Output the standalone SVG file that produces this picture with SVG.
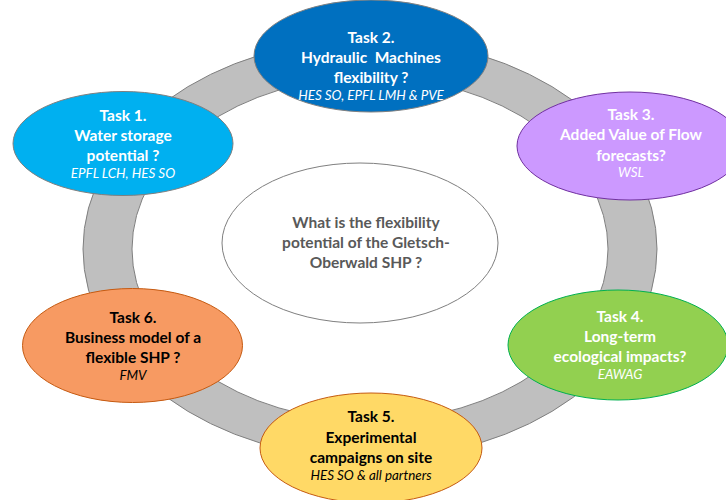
<svg xmlns="http://www.w3.org/2000/svg" width="726" height="500" viewBox="0 0 726 500">
<style>
text{font-family:Lato,"Liberation Sans",sans-serif;text-anchor:middle}
.b{font-weight:bold;font-size:15.5px}
.i{font-style:italic;font-size:13.4px}
.w{fill:#ffffff}
.k{fill:#000000}
.g{fill:#595959}
.pre{white-space:pre}
</style>
<rect width="726" height="500" fill="#ffffff"/>
<g id="connectors">
<path d="M83,249 A287,210 0 1,0 657,249 A287,210 0 1,0 83,249 Z M132,249 A238,172 0 1,1 608,249 A238,172 0 1,1 132,249 Z" fill="#bfbfbf" fill-rule="evenodd" stroke="#7f7f7f" stroke-width="1"/>
</g>
<g id="center">
<ellipse cx="360" cy="243" rx="138" ry="80" fill="#ffffff" stroke="#7f7f7f" stroke-width="1"/>
<text class="b g" x="366" y="228">What is the flexibility</text>
<text class="b g" x="366" y="248">potential of the Gletsch-</text>
<text class="b g" x="366" y="268">Oberwald SHP ?</text>
</g>
<g id="task2">
<ellipse cx="371" cy="56" rx="117" ry="56" fill="#0070c0" stroke="#7f7f7f" stroke-width="1"/>
<text class="b w" x="371" y="43">Task 2.</text>
<text class="b w pre" x="371" y="63" xml:space="preserve">Hydraulic  Machines</text>
<text class="b w" x="371" y="83">flexibility ?</text>
<text class="i w" x="371" y="100">HES SO, EPFL LMH &amp; PVE</text>
</g>
<g id="task1">
<ellipse cx="123" cy="143.5" rx="110" ry="52" fill="#00b0f0" stroke="#7f7f7f" stroke-width="1"/>
<text class="b w" x="123" y="121">Task 1.</text>
<text class="b w" x="123" y="141">Water storage</text>
<text class="b w" x="123" y="161">potential ?</text>
<text class="i w" x="123" y="178">EPFL LCH, HES SO</text>
</g>
<g id="task3">
<ellipse cx="630" cy="146" rx="113" ry="54" fill="#cc99ff" stroke="#7030a0" stroke-width="1"/>
<text class="b w" x="631" y="120">Task 3.</text>
<text class="b w" x="631" y="140">Added Value of Flow</text>
<text class="b w" x="631" y="161">forecasts?</text>
<text class="i w" x="631" y="177">WSL</text>
</g>
<g id="task6">
<ellipse cx="132.5" cy="345.5" rx="110" ry="57" fill="#f79a62" stroke="#c55a11" stroke-width="1"/>
<text class="b k" x="133" y="323">Task 6.</text>
<text class="b k" x="133" y="343">Business model of a</text>
<text class="b k" x="133" y="363">flexible SHP ?</text>
<text class="i k" x="133" y="380">FMV</text>
</g>
<g id="task4">
<ellipse cx="618" cy="345" rx="110" ry="55" fill="#92d050" stroke="#00b050" stroke-width="1"/>
<text class="b w" x="620" y="322">Task 4.</text>
<text class="b w" x="620" y="342">Long-term</text>
<text class="b w" x="620" y="362">ecological impacts?</text>
<text class="i w" x="620" y="379">EAWAG</text>
</g>
<g id="task5">
<ellipse cx="371" cy="448" rx="111" ry="55" fill="#ffd966" stroke="#c55a11" stroke-width="1"/>
<text class="b k" x="371" y="422">Task 5.</text>
<text class="b k" x="371" y="443">Experimental</text>
<text class="b k" x="371" y="463">campaigns on site</text>
<text class="i k" x="371" y="480">HES SO &amp; all partners</text>
</g>
</svg>
